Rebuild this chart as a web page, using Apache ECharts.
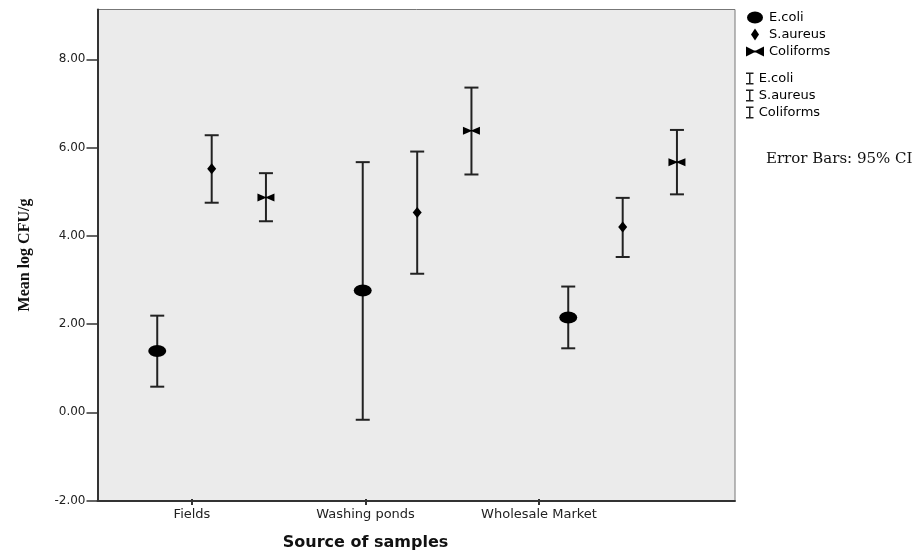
<!DOCTYPE html>
<html>
<head>
<meta charset="utf-8">
<script src="https://cdn.jsdelivr.net/npm/echarts@6/dist/echarts.min.js"></script>
<style>html,body{margin:0;padding:0;background:#fff}#c{width:923px;height:556px}</style>
</head>
<body>
<div id="c"></div>
<script>
// ---- data ----
var categories = ['Fields', 'Washing ponds', 'Wholesale Market'];
var seriesNames = ['E.coli', 'S.aureus', 'Coliforms'];
var ecoliMean = [1.39, 2.76, 2.15];
var ecoliLow = [0.58, -0.17, 1.45];
var ecoliHigh = [2.19, 5.67, 2.85];
var saureusMean = [5.52, 4.53, 4.20];
var saureusLow = [4.75, 3.14, 3.52];
var saureusHigh = [6.28, 5.91, 4.86];
var coliMean = [4.87, 6.38, 5.67];
var coliLow = [4.33, 5.39, 4.94];
var coliHigh = [5.42, 7.36, 6.40];
var yTicks = [-2, 0, 2, 4, 6, 8];

// ---- layout / style ----
var offsets = [-0.265, 0, 0.264];
var bowtie = 'path://M0,0 L8,4 L10,4 L18,0 L18,10 L10,6 L8,6 L0,10 Z';
var ellipse = 'path://M0,6 A8,6 0 1,0 16,6 A8,6 0 1,0 0,6 Z';
var diamond = 'path://M4,0 L8,6 L4,12 L0,6 Z';
var ibeam = 'path://M0,0 H10 V2 H6 V14 H10 V16 H0 V14 H4 V2 H0 Z';
var symbols = [
  {symbol: 'circle', size: [18, 12]},
  {symbol: 'diamond', size: [9, 11]},
  {symbol: bowtie, size: [17, 8]}
];
var means = [ecoliMean, saureusMean, coliMean];
var lows = [ecoliLow, saureusLow, coliLow];
var highs = [ecoliHigh, saureusHigh, coliHigh];

var series = [];
seriesNames.forEach(function (nm, s) {
  var eData = categories.map(function (c, i) { return [i + offsets[s], lows[s][i], highs[s][i]]; });
  series.push({
    name: nm + ' (CI)',
    type: 'custom',
    xAxisIndex: 0, yAxisIndex: 0,
    itemStyle: {color: '#222'},
    z: 2,
    encode: {x: 0, y: [1, 2]},
    data: eData,
    renderItem: function (params, api) {
      var x = api.value(0);
      var top = api.coord([x, api.value(2)]);
      var bot = api.coord([x, api.value(1)]);
      var hw = 7;
      var st = {stroke: '#222', lineWidth: 2};
      return {
        type: 'group',
        children: [
          {type: 'line', shape: {x1: top[0], y1: top[1], x2: bot[0], y2: bot[1]}, style: st},
          {type: 'line', shape: {x1: top[0] - hw, y1: top[1], x2: top[0] + hw, y2: top[1]}, style: st},
          {type: 'line', shape: {x1: bot[0] - hw, y1: bot[1], x2: bot[0] + hw, y2: bot[1]}, style: st}
        ]
      };
    }
  });
});
seriesNames.forEach(function (nm, s) {
  series.push({
    name: nm,
    type: 'scatter',
    xAxisIndex: 0, yAxisIndex: 0,
    symbol: symbols[s].symbol,
    symbolSize: symbols[s].size,
    symbolKeepAspect: false,
    itemStyle: {color: '#000', opacity: 1},
    z: 5,
    data: categories.map(function (c, i) { return [i + offsets[s], means[s][i]]; })
  });
});

var sans = 'DejaVu Sans, Arial, sans-serif';
var chart = echarts.init(document.getElementById('c'), null, {renderer: 'canvas'});
chart.setOption({
  animation: false,
  backgroundColor: '#fff',
  textStyle: {fontFamily: sans},
  grid: [
    {left: 97.5, right: 188, top: 9.5, bottom: 55.5, show: true, backgroundColor: '#ebebeb', borderColor: '#777', borderWidth: 1},
    {left: 105.25, right: 297.25, top: 9.5, bottom: 55.5, show: false}
  ],
  xAxis: [
    {type: 'value', gridIndex: 0, min: -0.5557, max: 2.5465,
      axisLine: {show: true, onZero: false, lineStyle: {color: '#333', width: 2}},
      axisTick: {show: false}, axisLabel: {show: false}, splitLine: {show: false}},
    {type: 'category', gridIndex: 1, data: categories, boundaryGap: true,
      axisLine: {show: false, onZero: false},
      axisTick: {show: true, alignWithLabel: true, length: 6, lineStyle: {color: '#333', width: 2}},
      axisLabel: {color: '#222', fontSize: 13, margin: 9, fontFamily: sans},
      name: 'Source of samples', nameLocation: 'middle', nameGap: 36,
      nameTextStyle: {color: '#111', fontSize: 16, fontWeight: 'bold', fontFamily: sans}}
  ],
  yAxis: [
    {type: 'value', gridIndex: 0, min: -2, max: 9.13, interval: 2,
      axisLine: {show: true, onZero: false, lineStyle: {color: '#333', width: 2}},
      axisTick: {show: true, length: 11, customValues: yTicks, lineStyle: {color: '#333', width: 1.5}},
      axisLabel: {customValues: yTicks, color: '#222', fontSize: 12, margin: 12, fontFamily: sans,
        formatter: function (v) { return v.toFixed(2); }},
      splitLine: {show: false},
      name: 'Mean log CFU/g', nameLocation: 'middle', nameGap: 65, nameRotate: 90,
      nameTextStyle: {color: '#111', fontSize: 16, fontWeight: 'bold', fontFamily: 'Liberation Serif, Times New Roman, serif'}},
    {type: 'value', gridIndex: 1, show: false, min: -2, max: 9.13}
  ],
  legend: [
    {orient: 'vertical', left: 746, top: 11, padding: 0, itemGap: 4, itemWidth: 18, itemHeight: 12,
      selectedMode: false,
      textStyle: {color: '#000', fontSize: 13, fontFamily: sans},
      data: [
        {name: 'E.coli', icon: ellipse},
        {name: 'S.aureus', icon: diamond},
        {name: 'Coliforms', icon: bowtie}
      ]},
    {orient: 'vertical', left: 746, top: 72, padding: 0, itemGap: 4, itemWidth: 8, itemHeight: 12,
      selectedMode: false,
      textStyle: {color: '#000', fontSize: 13, fontFamily: sans},
      formatter: function (n) { return n.replace(' (CI)', ''); },
      data: seriesNames.map(function (n) { return {name: n + ' (CI)', icon: ibeam}; })}
  ],
  graphic: [
    {type: 'text', left: 766, top: 152,
      style: {text: 'Error Bars: 95% CI', fill: '#111', font: '15px "DejaVu Serif", "Liberation Serif", serif'}}
  ],
  series: series
});
</script>
</body>
</html>
